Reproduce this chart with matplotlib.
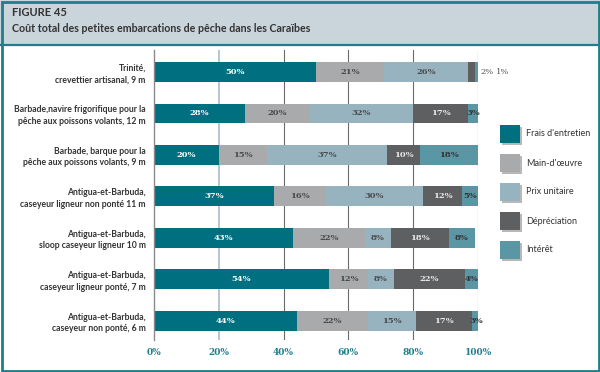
import matplotlib
matplotlib.use("Agg")
import matplotlib.pyplot as plt
from matplotlib.patches import Rectangle
import numpy as np

# données
categories = [
    "Trinité,\ncrevettier artisanal, 9 m",
    "Barbade,navire frigorifique pour la\npêche aux poissons volants, 12 m",
    "Barbade, barque pour la\npêche aux poissons volants, 9 m",
    "Antigua-et-Barbuda,\ncaseyeur ligneur non ponté 11 m",
    "Antigua-et-Barbuda,\nsloop caseyeur ligneur 10 m",
    "Antigua-et-Barbuda,\ncaseyeur ligneur ponté, 7 m",
    "Antigua-et-Barbuda,\ncaseyeur non ponté, 6 m",
]
series = ["Frais d'entretien", "Main-d'œuvre", "Prix unitaire", "Dépréciation", "Intérêt"]
frais = [50, 28, 20, 37, 43, 54, 44]
main_oeuvre = [21, 20, 15, 16, 22, 12, 22]
prix = [26, 32, 37, 30, 8, 8, 15]
depreciation = [2, 17, 10, 12, 18, 22, 17]
interet = [1, 3, 18, 5, 8, 4, 3]
xticks = [0, 20, 40, 60, 80, 100]

colors = ["#006f80", "#a9aaac", "#98b3c0", "#5e5f61", "#5b96a4"]
label_colors = ["white", "#4a4a4a", "#4a4a4a", "#e8e8e8", "#333333"]
teal = "#1f7d8c"
txt = "#333333"

W, H = 600, 372
fig = plt.figure(figsize=(6, 3.72), dpi=100)

# cadre et bandeau du titre
fig.patches.append(Rectangle((0, 1 - 45 / H), 1, 45 / H, transform=fig.transFigure,
                             facecolor="#c9d4db", edgecolor="none", zorder=0))
fig.add_artist(plt.Line2D([0, 1], [1 - 45 / H, 1 - 45 / H], color=teal, lw=1.6))
fig.patches.append(Rectangle((1.5 / W, 1.5 / H), 1 - 3 / W, 1 - 3 / H, transform=fig.transFigure,
                             facecolor="none", edgecolor=teal, lw=2, zorder=5))
fig.text(12 / W, 1 - 12 / H, "FIGURE 45", fontsize=8, fontweight="bold",
         family="Lato", color=txt, va="center")
fig.text(12 / W, 1 - 28 / H, "Coût total des petites embarcations de pêche dans les Caraïbes",
         fontsize=7.7, fontweight="bold", family="Lato", color=txt, va="center")

ax = fig.add_axes([154 / W, 32 / H, 324 / W, 290 / H])
data = np.array([frais, main_oeuvre, prix, depreciation, interet], dtype=float)
y = np.arange(len(categories))
left = np.zeros(len(categories))
for i, (name, vals) in enumerate(zip(series, data)):
    ax.barh(y, vals, left=left, height=0.48, color=colors[i], zorder=2, label=name)
    for j, v in enumerate(vals):
        if j == 0 and i >= 3:
            continue
        ax.text(left[j] + v / 2, y[j], f"{int(v)}%", ha="center", va="center",
                fontsize=6, fontweight="bold", family="DejaVu Serif",
                color=label_colors[i], zorder=3)
    left += vals

# petites valeurs de la première ligne, écrites à droite
ax.text(102.8, 0, f"{depreciation[0]}%", ha="center", va="center", fontsize=6,
        family="DejaVu Serif", color="#555555")
ax.text(107.6, 0, f"{interet[0]}%", ha="center", va="center", fontsize=6,
        family="DejaVu Serif", color="#555555")

ax.set_xlim(0, 100)
ax.set_ylim(len(categories) - 0.54, -0.53)
for t in xticks[1:]:
    if t == 20:
        ax.axvline(t, color="#a9bcc6", lw=1.2, zorder=1)
    else:
        ax.axvline(t, color="#6a6a6a", lw=0.8, zorder=1)
for s in ["top", "right", "bottom"]:
    ax.spines[s].set_visible(False)
ax.spines["left"].set_color("#8a8a8a")
ax.spines["left"].set_linewidth(1)

ax.set_xticks(xticks)
ax.set_xticklabels([f"{t}%" for t in xticks], fontsize=6.5, fontweight="bold",
                   family="DejaVu Serif", color=teal)
ax.tick_params(axis="x", length=0, pad=6)
ax.set_yticks(y)
ax.set_yticklabels(categories, fontsize=6.2, fontweight="bold", family="Lato",
                   color=txt, linespacing=1.35)
ax.tick_params(axis="y", length=0, pad=6)

# légende faite à la main (carrés avec ombre)
for k, name in enumerate(series):
    yc = 1 - (135 + 29 * k) / H
    fig.patches.append(Rectangle((502 / W, yc - 10 / H), 20 / W, 18 / H,
                                 transform=fig.transFigure, facecolor="#b8b8b8",
                                 edgecolor="none"))
    fig.patches.append(Rectangle((500 / W, yc - 8 / H), 20 / W, 18 / H,
                                 transform=fig.transFigure, facecolor=colors[k],
                                 edgecolor="none"))
    fig.text(526 / W, yc + 1 / H, name, fontsize=6.5, family="Lato", color=txt,
             va="center")

fig.savefig("out.png", dpi=100)
